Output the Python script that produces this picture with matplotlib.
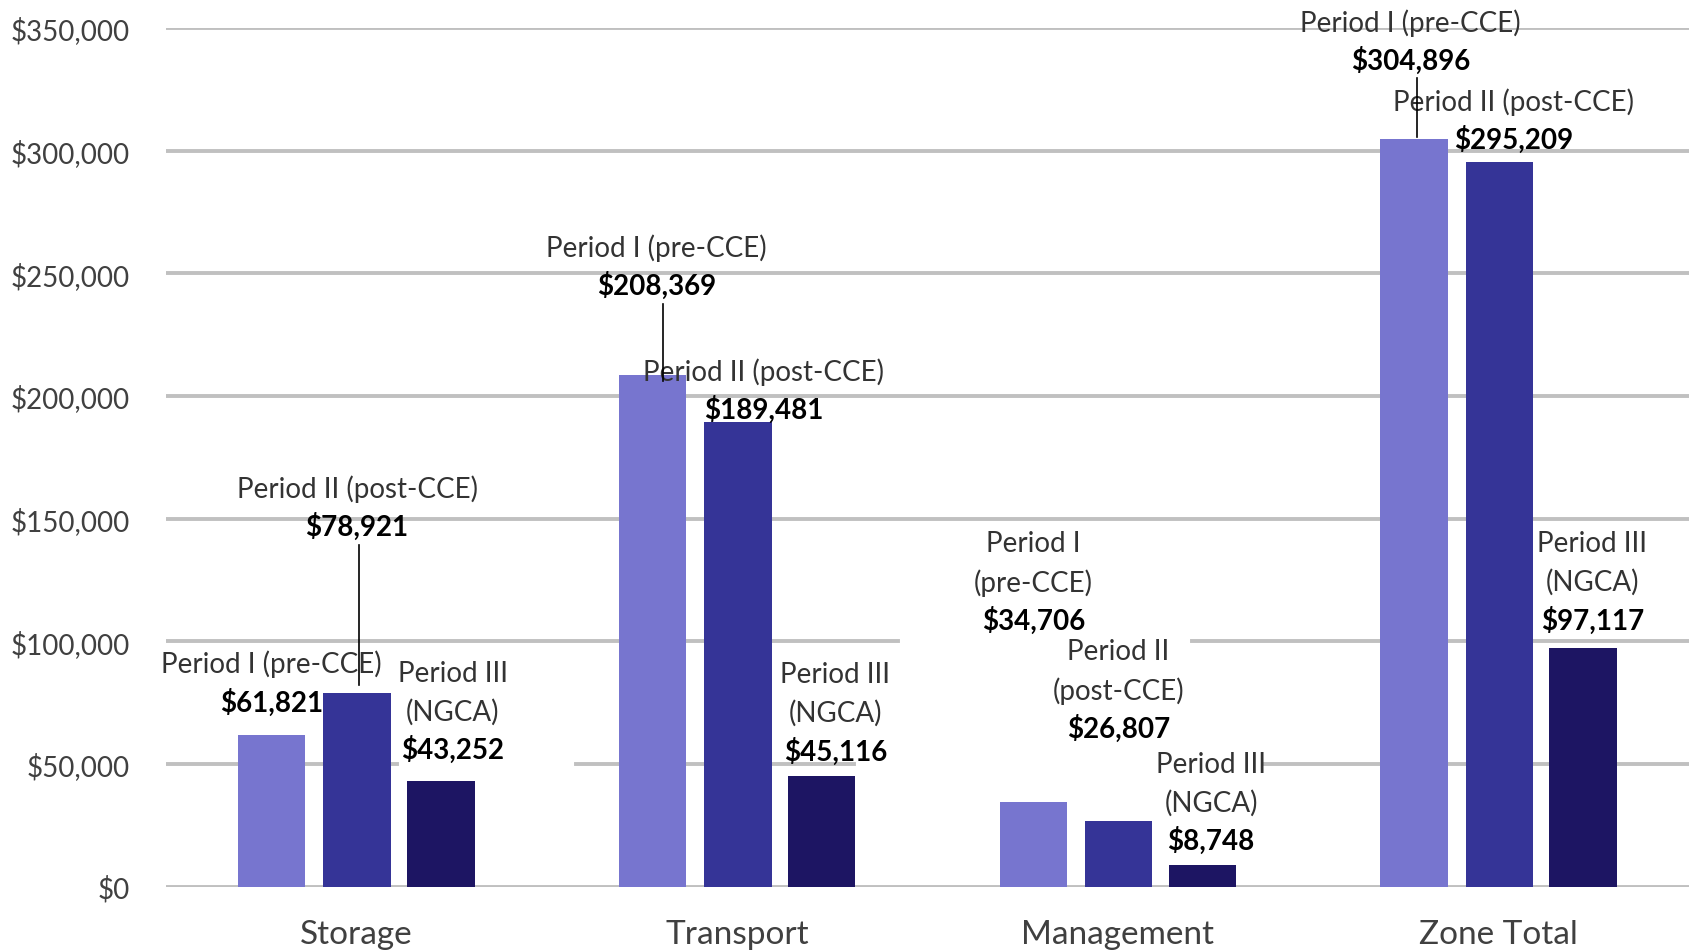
import numpy as np
import matplotlib.pyplot as plt
from matplotlib.ticker import FuncFormatter

plt.rcParams['font.family'] = ['Lato', 'DejaVu Sans']

# data
categories = ['Storage', 'Transport', 'Management', 'Zone Total']
periods = ['Period I (pre-CCE)', 'Period II (post-CCE)', 'Period III (NGCA)']
period_1 = [61821, 208369, 34706, 304896]
period_2 = [78921, 189481, 26807, 295209]
period_3 = [43252, 45116, 8748, 97117]

# label text, one entry per bar (category x period)
label_names = [
    [['Period I (pre-CCE)'], ['Period II (post-CCE)'], ['Period III', '(NGCA)']],
    [['Period I (pre-CCE)'], ['Period II (post-CCE)'], ['Period III', '(NGCA)']],
    [['Period I', '(pre-CCE)'], ['Period II', '(post-CCE)'], ['Period III', '(NGCA)']],
    [['Period I (pre-CCE)'], ['Period II (post-CCE)'], ['Period III', '(NGCA)']],
]

# label placement (x shift from bar centre, y of the value line)
label_dx = [[0.0, 0.0, 0.031], [0.01, 0.067, 0.036], [0.0, 0.0, 0.023], [-0.01, 0.037, 0.024]]
label_y = [[75300, 147000, 56100], [245200, 194700, 55300],
           [108700, 64700, 19000], [336900, 304700, 108700]]
line_step = 15600
# leader lines: (category, period, dx, y_from, y_to)
leaders = [(0, 1, 0.006, 139400, 82200), (1, 0, 0.028, 237500, 206100), (3, 0, 0.008, 329500, 305500)]

colors = ['#7775CF', '#353497', '#1D1563']
offsets = [-0.222, 0.002, 0.222]
width = 0.177

fig = plt.figure(figsize=(17, 9.53), dpi=100)
ax = fig.add_axes([0.0976, 0.0685, 0.8959, 0.9011])

x = np.arange(len(categories))
series = [period_1, period_2, period_3]
for i, vals in enumerate(series):
    ax.bar(x + offsets[i], vals, width, color=colors[i], zorder=2, label=periods[i])

ax.set_xlim(-0.5, 3.5)
ax.set_ylim(0, 350000)
yticks = list(range(0, 350001, 50000))
ax.set_yticks(yticks)
ax.yaxis.set_major_formatter(FuncFormatter(lambda v, p: '${:,.0f}'.format(v)))
ax.set_xticks(x)
ax.set_xticklabels(categories)
ax.tick_params(axis='y', length=0, pad=26, labelsize=20, labelcolor='#404040')
ax.tick_params(axis='x', length=0, pad=23, labelsize=24, labelcolor='#404040')
for s in ax.spines.values():
    s.set_visible(False)

# gridlines, a couple have gaps like the original
grid_gaps = {100000: [(0, 0.481), (0.674, 1)],
             50000: [(0, 0.152), (0.269, 0.452), (0.721, 1)]}
for yv in yticks:
    for a, b in grid_gaps.get(yv, [(0, 1)]):
        ax.axhline(yv, a, b, color='#C0C0C0', lw=2.8, zorder=1)

# data labels
for c in range(len(categories)):
    for p in range(3):
        bx = x[c] + offsets[p] + label_dx[c][p]
        yv = label_y[c][p]
        ax.text(bx, yv, '${:,}'.format(series[p][c]), ha='center', va='center',
                fontsize=20, fontweight='bold', color='black', zorder=4)
        names = label_names[c][p]
        for k, nm in enumerate(reversed(names)):
            ax.text(bx, yv + line_step * (k + 1), nm, ha='center', va='center',
                    fontsize=20, color='#333333', zorder=4)

for c, p, dx, y0, y1 in leaders:
    lx = x[c] + offsets[p] + dx
    ax.plot([lx, lx], [y0, y1], color='black', lw=1.2, zorder=5)

fig.savefig('out.png', dpi=100)
